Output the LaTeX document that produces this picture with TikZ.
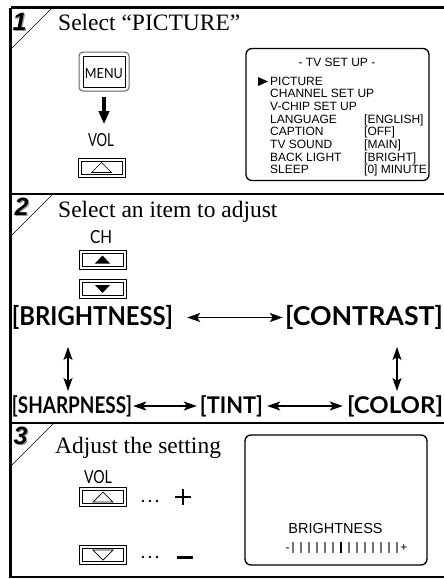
\documentclass[tikz,border=0pt]{standalone}
\usepackage{fontspec}
\setmainfont{Liberation Serif}
\newfontfamily\arial{Liberation Sans}
\newfontfamily\gill{Lato}
\usetikzlibrary{arrows.meta,calc}
\newcommand\fitw[2]{\resizebox{#1}{\height}{#2}}
\newcommand\btnframe[1]{\draw[line width=0.7pt] ([shift={(-2.7,2.7)}]#1.south west) rectangle ([shift={(2.7,-2.7)}]#1.north east);}
\begin{document}
\begin{tikzpicture}[x=1pt,y=-1pt,
  title/.style={anchor=base west,inner sep=0,font=\fontsize{23.5}{23.5}\selectfont},
  menuline/.style={anchor=base west,inner sep=0,font=\arial\fontsize{12}{12}\selectfont},
  biglabel/.style={inner sep=0,font=\gill\bfseries\fontsize{26}{26}\selectfont},
  midlabel/.style={inner sep=0,font=\gill\bfseries\fontsize{23}{23}\selectfont},
  keylabel/.style={inner sep=0,font=\gill\fontsize{18}{18}\selectfont},
  btn/.style={draw,line width=0.8pt,minimum width=41pt,minimum height=13pt,inner sep=0},
  numshadow/.style={text=black!40,font=\arial\bfseries\itshape\fontsize{25}{25}\selectfont,inner sep=0},
  numtext/.style={text=black,font=\arial\bfseries\itshape\fontsize{25}{25}\selectfont,inner sep=0},
  dblarrow/.style={line width=1.4pt,{Stealth[length=13pt,width=9pt,inset=3pt]}-{Stealth[length=13pt,width=9pt,inset=3pt]}},
  bigarrow/.style={line width=3.5pt,-{Triangle[length=13pt,width=10pt]}},
  screen/.style={draw,line width=1.3pt,rounded corners=6pt},
  tick/.style={line width=1.4pt,black!55}
]
\useasboundingbox (0,0) rectangle (444,579);
% frame
\draw[line width=2.2pt] (10.5,7.5) -- (450,7.5);
\draw[line width=2.2pt] (10.5,7.5) -- (10.5,577) -- (450,577);
\draw[line width=2pt] (10.5,193.5) -- (450,193.5);
\draw[line width=2pt] (10.5,423) -- (450,423);
% corner diagonals
\draw[line width=0.6pt] (52,8) -- (11,49);
\draw[line width=0.6pt] (53,194) -- (11,236);
\draw[line width=0.6pt] (53,424) -- (11,466);
% numbers
\node[numshadow] at (20.8,23.2) {1};
\node[numtext] (n1) at (19.5,22) {1};
\node[numshadow] at (22.8,208.2) {2};
\node[numtext] (n2) at (21.5,207) {2};
\node[numshadow] at (21.8,437.2) {3};
\node[numtext] (n3) at (20.5,436) {3};
% titles
\node[title] (t1) at (58,30) {Select “PICTURE”};
\node[title] (t2) at (58,217) {Select an item to adjust};
\node[title] (t3) at (55,453) {Adjust the setting};

% ---------- section 1
\draw[black!60,line width=1pt,rounded corners=4pt] (79,52) rectangle (129,91);
\node[draw,line width=0.9pt,minimum width=42pt,minimum height=31pt,inner sep=0] (menu) at (104,71.5) {};
\node[inner sep=0,font=\gill\fontsize{14}{14}\selectfont] (menut) at (104,74) {\fitw{38pt}{MENU}};
\node[keylabel] (vol1) at (101,140) {\fitw{26pt}{VOL}};
\draw[bigarrow,shorten <=10pt,shorten >=9pt] (menu.south) -- (menu.south |- vol1.north);
\node[btn] (volup1) at (101.5,167.5) {};
\btnframe{volup1}
\draw[fill=white,line width=0.7pt] ($(volup1)+(-10,5)$) -- ($(volup1)+(10,5)$) -- ($(volup1)+(0,-5)$) -- cycle;

% menu box
\node[screen,minimum width=183pt,minimum height=132pt] (menubox) at (337.5,114.5) {};
\node[anchor=base,inner sep=0,font=\arial\fontsize{12}{12}\selectfont] (mtitle) at (337,66) {- TV SET UP -};
\fill (258,77) -- (268,81.5) -- (258,86) -- cycle;
\node[menuline] (m1) at (270,85) {PICTURE};
\node[menuline] (m2) at (270,97.7) {CHANNEL SET UP};
\node[menuline] (m3) at (270,110.4) {V-CHIP SET UP};
\node[menuline] (m4) at (270,123.1) {LANGUAGE};
\node[menuline] (m5) at (270,135.8) {CAPTION};
\node[menuline] (m6) at (270,148.5) {TV SOUND};
\node[menuline] (m7) at (270,161.2) {BACK LIGHT};
\node[menuline] (m8) at (270,173.9) {SLEEP};
\node[menuline] (v4) at (364,123.1) {[ENGLISH]};
\node[menuline] (v5) at (364,135.8) {[OFF]};
\node[menuline] (v6) at (364,148.5) {[MAIN]};
\node[menuline] (v7) at (364,161.2) {[BRIGHT]};
\node[menuline] (v8) at (364,173.9) {[0] MINUTE};

% ---------- section 2
\node[keylabel] (ch) at (101,237) {\fitw{22pt}{CH}};
\node[btn] (chup) at (102.5,259.5) {};
\btnframe{chup}
\fill ($(chup)+(-7.5,4)$) -- ($(chup)+(7.5,4)$) -- ($(chup)+(0,-4)$) -- cycle;
\node[btn] (chdn) at (102.5,289) {};
\btnframe{chdn}
\fill ($(chdn)+(-7.5,-4)$) -- ($(chdn)+(7.5,-4)$) -- ($(chdn)+(0,4)$) -- cycle;

\node[biglabel] (bright) at (92.5,317.5) {\fitw{161pt}{[BRIGHTNESS]}};
\node[biglabel] (contrast) at (364,317.5) {\fitw{158pt}{[CONTRAST]}};
\node[midlabel] (sharp) at (72,406) {\fitw{120pt}{[SHARPNESS]}};
\node[midlabel] (tint) at (231.5,406) {\fitw{63pt}{[TINT]}};
\node[midlabel] (color) at (395,406) {\fitw{96pt}{[COLOR]}};
\draw[dblarrow,shorten <=14pt,shorten >=2pt] (bright.east) -- (contrast.west);
\draw[dblarrow,shorten <=1pt,shorten >=3pt] (sharp.east) -- (tint.west);
\draw[dblarrow,shorten <=4pt,shorten >=4pt] (tint.east) -- (color.west);
\coordinate (la) at (68,347);
\coordinate (lb) at (68,391);
\coordinate (ra) at (397,347);
\coordinate (rb) at (397,391);
\draw[dblarrow] (la) -- (lb);
\draw[dblarrow] (ra) -- (rb);

% ---------- section 3
\node[keylabel] (vol3) at (98,477.5) {\fitw{28pt}{VOL}};
\node[btn] (volup3) at (103,497) {};
\btnframe{volup3}
\draw[fill=white,line width=0.7pt] ($(volup3)+(-10,5)$) -- ($(volup3)+(10,5)$) -- ($(volup3)+(0,-5)$) -- cycle;
\node[btn] (voldn3) at (103,555) {};
\btnframe{voldn3}
\draw[fill=white,line width=0.7pt] ($(voldn3)+(-10,-5)$) -- ($(voldn3)+(10,-5)$) -- ($(voldn3)+(0,5)$) -- cycle;
\foreach \x in {143,150,157} {\fill (\x,501) circle (1.4pt); \fill (\x,557) circle (1.4pt);}
\draw[line width=1.8pt] (175,497) -- (191,497) (183,489) -- (183,505);
\draw[line width=3pt] (177,557) -- (193,557);

\node[screen,minimum width=182pt,minimum height=130pt] (scr) at (336,500) {};
\node[anchor=base,inner sep=0,font=\arial\fontsize{14.5}{14.5}\selectfont] (brt) at (335.5,533) {BRIGHTNESS};
\node[anchor=base,inner sep=0,font=\arial\fontsize{12}{12}\selectfont] (minus) at (287.5,551.5) {-};
\node[anchor=base,inner sep=0,font=\arial\fontsize{12}{12}\selectfont] (plus) at (404,551.5) {+};
\foreach \i in {0,...,13} {
  \ifnum\i=6
    \draw[line width=2.4pt,black] ({293+\i*8},541.5) -- ({293+\i*8},553);
  \else
    \draw[tick] ({293+\i*8},541.5) -- ({293+\i*8},553);
  \fi
}
\end{tikzpicture}
\end{document}
